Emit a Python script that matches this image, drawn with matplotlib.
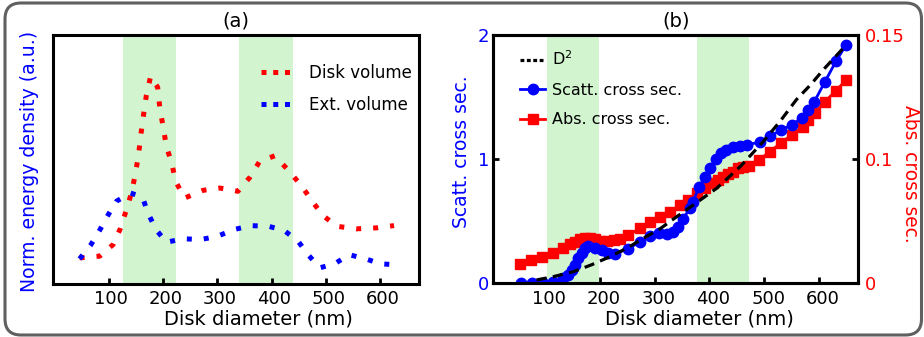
import matplotlib
matplotlib.use("Agg")
import matplotlib.pyplot as plt
from matplotlib.lines import Line2D
from matplotlib.patches import FancyBboxPatch
from matplotlib.transforms import IdentityTransform, ScaledTranslation

plt.rcParams['font.family'] = ['DejaVu Sans']
plt.rcParams['font.size'] = 13
plt.rcParams['mathtext.fontset'] = 'dejavusans'

# ---------------- panel (a): normalized energy density ----------------
disk_x = [46, 83, 108, 121, 132, 142, 149, 155, 159, 164, 169, 177, 190, 194,
          200, 206, 216, 224, 240, 274, 305, 338, 360, 378, 406, 433, 456, 475,
          495, 521, 557, 594, 626]
disk_y = [0.103, 0.110, 0.157, 0.220, 0.294, 0.367, 0.442, 0.522, 0.598, 0.679,
          0.755, 0.833, 0.790, 0.706, 0.632, 0.554, 0.482, 0.407, 0.344, 0.375,
          0.384, 0.371, 0.427, 0.491, 0.514, 0.451, 0.391, 0.331, 0.273, 0.230,
          0.220, 0.224, 0.233]

ext_x = [46, 66, 83, 97, 114, 140, 162, 172, 187, 206, 237, 270, 300, 331, 361,
         395, 423, 449, 469, 489, 517, 543, 574, 601, 635]
ext_y = [0.099, 0.153, 0.214, 0.270, 0.331, 0.364, 0.348, 0.284, 0.217, 0.166,
         0.180, 0.177, 0.190, 0.217, 0.233, 0.230, 0.214, 0.170, 0.112, 0.063,
         0.080, 0.116, 0.099, 0.079, 0.075]

bands_a = [(126, 223), (340, 439)]

# ---------------- panel (b): cross sections ----------------
scatt_x = [55, 75, 95, 114, 133, 142, 148.5, 154.6, 160.6, 166.8, 172.8, 178.8,
           191, 203, 215, 228, 252, 273, 291, 307, 322, 334, 343, 352, 364,
           370, 381, 392, 401, 412, 422, 431, 443, 456, 468, 492, 511, 531, 551,
           570, 580, 591, 611, 631, 650]
scatt_y = [0.0, 0.0, 0.0, 0.013, 0.04, 0.067, 0.107, 0.147, 0.20, 0.242, 0.282,
           0.30, 0.282, 0.268, 0.242, 0.238, 0.280, 0.333, 0.381, 0.403, 0.398,
           0.412, 0.452, 0.518, 0.604, 0.657, 0.778, 0.858, 0.930, 1.000, 1.047,
           1.073, 1.095, 1.105, 1.114, 1.138, 1.186, 1.234, 1.278, 1.335, 1.395,
           1.458, 1.623, 1.787, 1.923]

abs_x = [54, 74, 94, 114, 132, 145, 155, 164, 173, 182, 191, 200, 212, 225, 236,
         252, 273, 291, 310, 328, 346, 361, 377, 392, 407, 416, 425, 434, 443,
         453, 462, 473, 491, 510, 530, 550, 571, 580, 592, 611, 631, 650]
abs_y = [0.0115, 0.0141, 0.0161, 0.0181, 0.0211, 0.0237, 0.0251, 0.0266, 0.0272,
         0.0272, 0.0266, 0.0257, 0.0256, 0.0262, 0.0270, 0.0292, 0.0332, 0.0372,
         0.0402, 0.0433, 0.0473, 0.0503, 0.0544, 0.0574, 0.0604, 0.0624, 0.0644,
         0.0659, 0.0674, 0.0695, 0.0700, 0.0710, 0.0745, 0.0795, 0.0846, 0.0896,
         0.0946, 0.0987, 0.1027, 0.1097, 0.1164, 0.1228]

d2_x = [84, 114, 151, 185, 218, 250, 279, 310, 340, 375, 413, 456, 498, 530,
        559, 585, 608, 630, 650]
d2_y = [0.027, 0.053, 0.093, 0.150, 0.214, 0.285, 0.362, 0.440, 0.536, 0.645,
        0.765, 0.939, 1.140, 1.310, 1.480, 1.600, 1.720, 1.825, 1.920]

bands_b = [(104, 199), (378, 473)]

x_ticks = [100, 200, 300, 400, 500, 600]
scatt_ticks = [0, 1, 2]
abs_ticks = [0, 0.075, 0.15]
abs_tick_labels = ['0', '0.1', '0.15']

BAND = '#d2f5cf'
RED = '#ff0000'
BLUE = '#0000ff'
SPINE_W = 2.2

W, H = 924, 337
fig = plt.figure(figsize=(W / 100, H / 100), dpi=100)


def frame(ax):
    for s in ax.spines.values():
        s.set_linewidth(SPINE_W)
        s.set_color('black')
    ax.tick_params(direction='in', length=4, width=2, labelsize=13, pad=5,
                   color='black')


def nudge_xlabels(ax, dx_px):
    off = ScaledTranslation(dx_px / 100, 0, fig.dpi_scale_trans)
    for lab in ax.get_xticklabels():
        lab.set_transform(lab.get_transform() + off)


# ---- (a)
ax1 = fig.add_axes([53 / W, (H - 283.5) / H, 366 / W, 248.5 / H])
for lo, hi in bands_a:
    ax1.axvspan(lo, hi, color=BAND, lw=0, zorder=0)
dot = (0, (1, 2.4))
ax1.plot(disk_x, disk_y, color=RED, lw=3.6, linestyle=dot)
ax1.plot(ext_x, ext_y, color=BLUE, lw=3.6, linestyle=dot)
ax1.set_xlim(-3, 672)
ax1.set_ylim(0, 1)
ax1.set_xticks(x_ticks)
ax1.set_yticks([])
frame(ax1)
nudge_xlabels(ax1, 2.5)
ax1.set_xlabel('Disk diameter (nm)', fontsize=14, labelpad=1)
ax1.xaxis.label.set_x(0.561)
ax1.set_ylabel('Norm. energy density (a.u.)', fontsize=13.6, color=BLUE,
               va='center')
ax1.yaxis.set_label_coords(-0.063, 0.493)
ax1.set_title('(a)', fontsize=14, pad=6)
leg_dot = (0, (1, 1.35))
ha = [Line2D([], [], color=RED, lw=3.6, linestyle=leg_dot),
      Line2D([], [], color=BLUE, lw=3.6, linestyle=leg_dot)]
ax1.legend(ha, ['Disk volume', 'Ext. volume'], loc='upper right',
           bbox_to_anchor=(1.0, 0.909), frameon=False, fontsize=12,
           handlelength=2.1, handletextpad=0.8, labelspacing=0.8,
           borderaxespad=0)

# ---- (b)
ax2 = fig.add_axes([493.3 / W, (H - 283.3) / H, 365 / W, 248.3 / H])
ax3 = ax2.twinx()
ax2.set_zorder(ax3.get_zorder() + 1)
ax2.patch.set_visible(False)
for lo, hi in bands_b:
    ax3.axvspan(lo, hi, color=BAND, lw=0, zorder=0)
ax3.plot(abs_x, abs_y, color=RED, lw=2, marker='s', ms=6.5, mec=RED, mfc=RED)
ax2.plot(scatt_x, scatt_y, color=BLUE, lw=2, marker='o', ms=7.5, mec=BLUE, mfc=BLUE)
ax2.plot(d2_x, d2_y, color='black', lw=2.3, linestyle=(0, (3.2, 2.0)))

ax2.set_xlim(5, 672)
ax2.set_ylim(0, 2)
ax3.set_ylim(0, 0.15)
ax2.set_xticks(x_ticks)
ax2.set_yticks(scatt_ticks)
ax2.set_yticklabels([str(t) for t in scatt_ticks])
ax3.set_yticks(abs_ticks)
ax3.set_yticklabels(abs_tick_labels)
frame(ax2)
frame(ax3)
nudge_xlabels(ax2, 4)
ax2.tick_params(axis='y', labelcolor=BLUE, pad=3)
ax3.tick_params(axis='y', labelcolor=RED, pad=5)
ax2.set_xlabel('Disk diameter (nm)', fontsize=14, labelpad=1)
ax2.xaxis.label.set_x(0.5636)
ax2.set_ylabel('Scatt. cross sec.', fontsize=13.5, color=BLUE, va='center')
ax2.yaxis.set_label_coords(-0.086, 0.53)
ax3.set_ylabel('Abs. cross sec.', fontsize=13.4, color=RED, rotation=270,
               va='center')
ax3.yaxis.set_label_coords(1.142, 0.44)
ax2.set_title('(b)', fontsize=14, pad=6)

hb = [Line2D([], [], color='black', lw=2.3, linestyle=(0, (1.2, 0.8))),
      Line2D([], [], color=BLUE, lw=2, marker='o', ms=7.5),
      Line2D([], [], color=RED, lw=2, marker='s', ms=6.5)]
ax2.legend(hb, ['D$^{2}$', 'Scatt. cross sec.', 'Abs. cross sec.'],
           loc='upper left', bbox_to_anchor=(0.0556, 0.9666), frameon=False,
           fontsize=11.5, handlelength=1.57, handletextpad=0.44,
           labelspacing=0.9, borderaxespad=0)

# rounded outer border
border = FancyBboxPatch((5, 2), 916.5, 332,
                        boxstyle='round,pad=0,rounding_size=16',
                        transform=IdentityTransform(), fill=False,
                        edgecolor='#606060', lw=2.2)
fig.add_artist(border)

fig.savefig('out.png', dpi=100)
